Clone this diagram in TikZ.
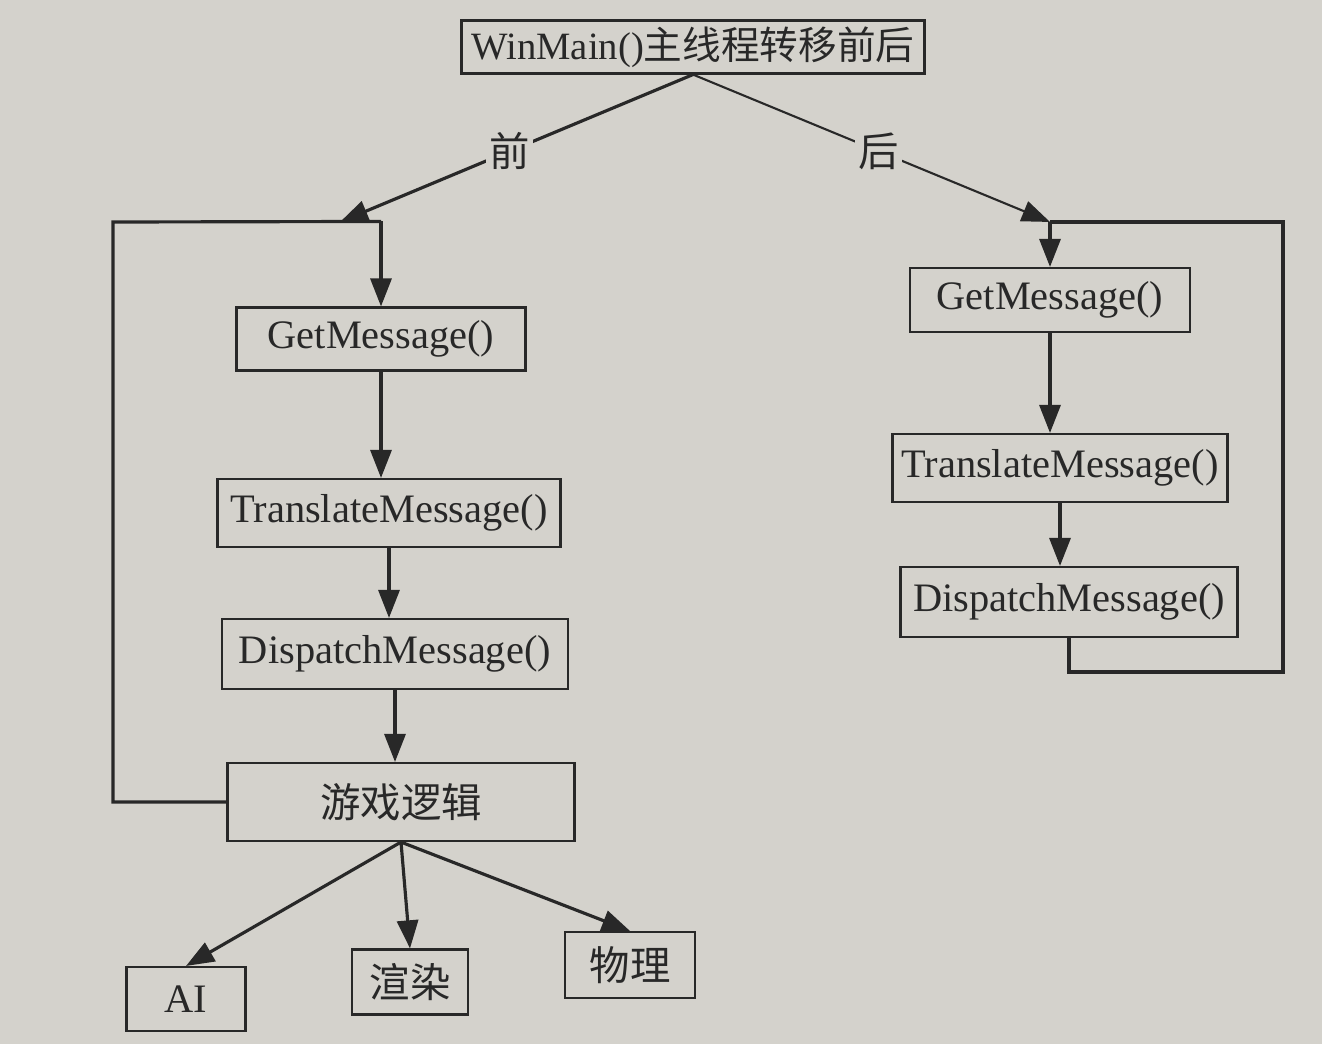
\documentclass[tikz,border=0pt]{standalone}
\usepackage{fontspec}
\setmainfont{Liberation Serif}
\newfontfamily\cjk{Noto Sans CJK SC}
\usepackage{xcolor}
\usepackage{tikz}
\usetikzlibrary{arrows.meta}
\usetikzlibrary{calc}
\definecolor{paper}{RGB}{212,210,204}
\definecolor{ink}{RGB}{40,40,40}

\begin{document}
\begin{tikzpicture}
\tikzstyle{box}  = [rectangle, draw=ink, line width=0.6pt, text=ink, inner sep=0pt, font=\fontsize{11.5}{13}\selectfont]
\tikzstyle{flow} = [draw=ink, line width=0.9pt, -{Triangle[length=8pt,width=6pt]}]
\tikzstyle{loop} = [draw=ink, line width=0.9pt]
\tikzstyle{tag}  = [fill=paper, text=ink, inner sep=1pt, font=\cjk\fontsize{11.5}{13}\selectfont]
\fill[paper] (0,0) rectangle (13.22,-10.44);
\useasboundingbox (0,0) rectangle (13.22,-10.44);
\node [box, minimum width=4.63cm, minimum height=0.53cm, font=\fontsize{11}{13}\selectfont](top) at (6.93, -0.47) {WinMain(){\cjk 主线程转移前后}};
%% before
\node [box, minimum width=2.89cm, minimum height=0.63cm](lget) at (3.81, -3.39) {GetMessage()};
\node [box, minimum width=3.43cm, minimum height=0.68cm](ltrans) at (3.89, -5.13) {TranslateMessage()};
\node [box, minimum width=3.46cm, minimum height=0.70cm](ldisp) at (3.95, -6.54) {DispatchMessage()};
\node [box, minimum width=3.47cm, minimum height=0.78cm](logic) at (4.01, -8.02) {\cjk 游戏逻辑};
\node [box, minimum width=1.19cm, minimum height=0.64cm](ai) at (1.86, -9.99) {AI};
\node [box, minimum width=1.16cm, minimum height=0.65cm](render) at (4.10, -9.82) {\cjk 渲染};
\node [box, minimum width=1.30cm, minimum height=0.66cm](phys) at (6.30, -9.65) {\cjk 物理};
%% after
\node [box, minimum width=2.80cm, minimum height=0.64cm](rget) at (10.50, -3.00) {GetMessage()};
\node [box, minimum width=3.35cm, minimum height=0.68cm](rtrans) at (10.60, -4.68) {TranslateMessage()};
\node [box, minimum width=3.37cm, minimum height=0.70cm](rdisp) at (10.69, -6.02) {DispatchMessage()};
\coordinate (lcorner) at (1.13, -2.22);
\coordinate (lhit) at (3.40, -2.22);
\coordinate (ljoin) at ($(lget.north) + (0, 0.85)$);
\coordinate (rjoin) at ($(rget.north) + (0, 0.45)$);
\coordinate (rcorner) at (12.83, -6.72);
 %%Edges
\draw [flow](top.south)--(lhit) node[pos=0.52, tag]{前};
\draw [flow, line width=0.6pt](top.south)--(rjoin) node[pos=0.52, tag]{后};
\draw [loop](logic.west) -| (lcorner) -- (ljoin);
\draw [flow](ljoin)--(lget.north);
\draw [flow](lget.south)--(lget.south |- ltrans.north);
\draw [flow](ltrans.south)--(ltrans.south |- ldisp.north);
\draw [flow](ldisp.south)--(ldisp.south |- logic.north);
\draw [flow](logic.south)--(ai.north);
\draw [flow](logic.south)--(render.north);
\draw [flow](logic.south)--(phys.north);
\draw [loop](rdisp.south) |- (rcorner) |- (rjoin);
\draw [flow](rjoin)--(rget.north);
\draw [flow](rget.south)--(rget.south |- rtrans.north);
\draw [flow](rtrans.south)--(rtrans.south |- rdisp.north);
\end{tikzpicture}
\end{document}
